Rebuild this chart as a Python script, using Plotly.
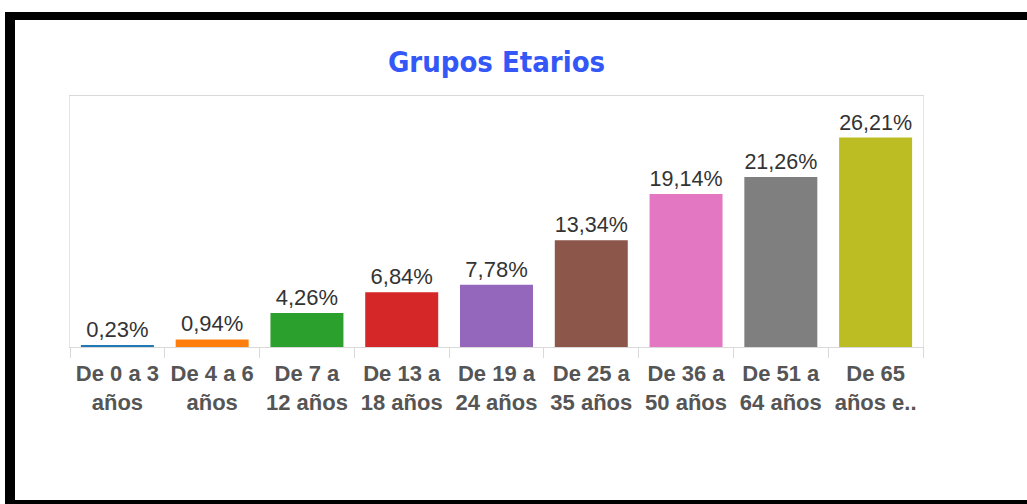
import plotly.graph_objects as go

categories = ["De 0 a 3<br>años", "De 4 a 6<br>años", "De 7 a<br>12 años", "De 13 a<br>18 años",
              "De 19 a<br>24 años", "De 25 a<br>35 años", "De 36 a<br>50 años", "De 51 a<br>64 años",
              "De 65<br>años e.."]
values = [0.23, 0.94, 4.26, 6.84, 7.78, 13.34, 19.14, 21.26, 26.21]
labels = ["0,23%", "0,94%", "4,26%", "6,84%", "7,78%", "13,34%", "19,14%", "21,26%", "26,21%"]
colors = ["#1f77b4", "#ff7f0e", "#2ca02c", "#d62728", "#9467bd", "#8c564b", "#e377c2", "#7f7f7f", "#bcbd22"]

W, H = 1027, 504
L, R, T, B = 70, 923, 96, 347

def px(x):
    return (x - L) / (R - L)

def py(y):
    return (B - y) / (B - T)

fig = go.Figure(go.Bar(
    x=categories, y=values, marker=dict(color=colors, line=dict(width=0)),
    text=labels, textposition="outside", cliponaxis=False,
    textfont=dict(family="Liberation Sans, Arial", size=22, color="#333333"),
))

shapes = []
# black frame bands (pixel coords)
for x0, y0, x1, y1 in [(5, 12, 1040, 20), (5, 12, 15, 510), (5, 500, 1040, 510)]:
    shapes.append(dict(type="rect", xref="paper", yref="paper",
                       x0=px(x0), x1=px(x1), y0=py(y0), y1=py(y1),
                       fillcolor="black", line=dict(width=0), layer="above"))

fig.update_layout(
    width=W, height=H,
    margin=dict(l=L, r=W - R, t=T, b=H - B, pad=0),
    paper_bgcolor="white", plot_bgcolor="white",
    showlegend=False, bargap=0.23,
    title=dict(text="<b>Grupos Etarios</b>", x=0.5, xref="paper", xanchor="center",
               y=1 - 62 / H, yref="container", yanchor="middle",
               font=dict(family="DejaVu Sans Condensed, DejaVu Sans", size=29, color="#3358f7")),
    xaxis=dict(showline=True, linecolor="#d9d9d9", linewidth=1, mirror=True,
               ticks="outside", ticklen=10, tickcolor="#d9d9d9", tickson="boundaries",
               ticklabelstandoff=7,
               tickfont=dict(family="Liberation Sans, Arial", size=22, color="#555555"),
               tickprefix="<b>", ticksuffix="</b>", showgrid=False),
    yaxis=dict(range=[0, 31.4], showticklabels=False, showgrid=False, zeroline=False,
               showline=True, linecolor="#e3e3e3", mirror=True, ticks=""),
    shapes=shapes,
)

fig.write_html("out.html", config={"displayModeBar": False},
               post_script="document.body.style.margin='0';document.body.style.overflow='hidden';")
